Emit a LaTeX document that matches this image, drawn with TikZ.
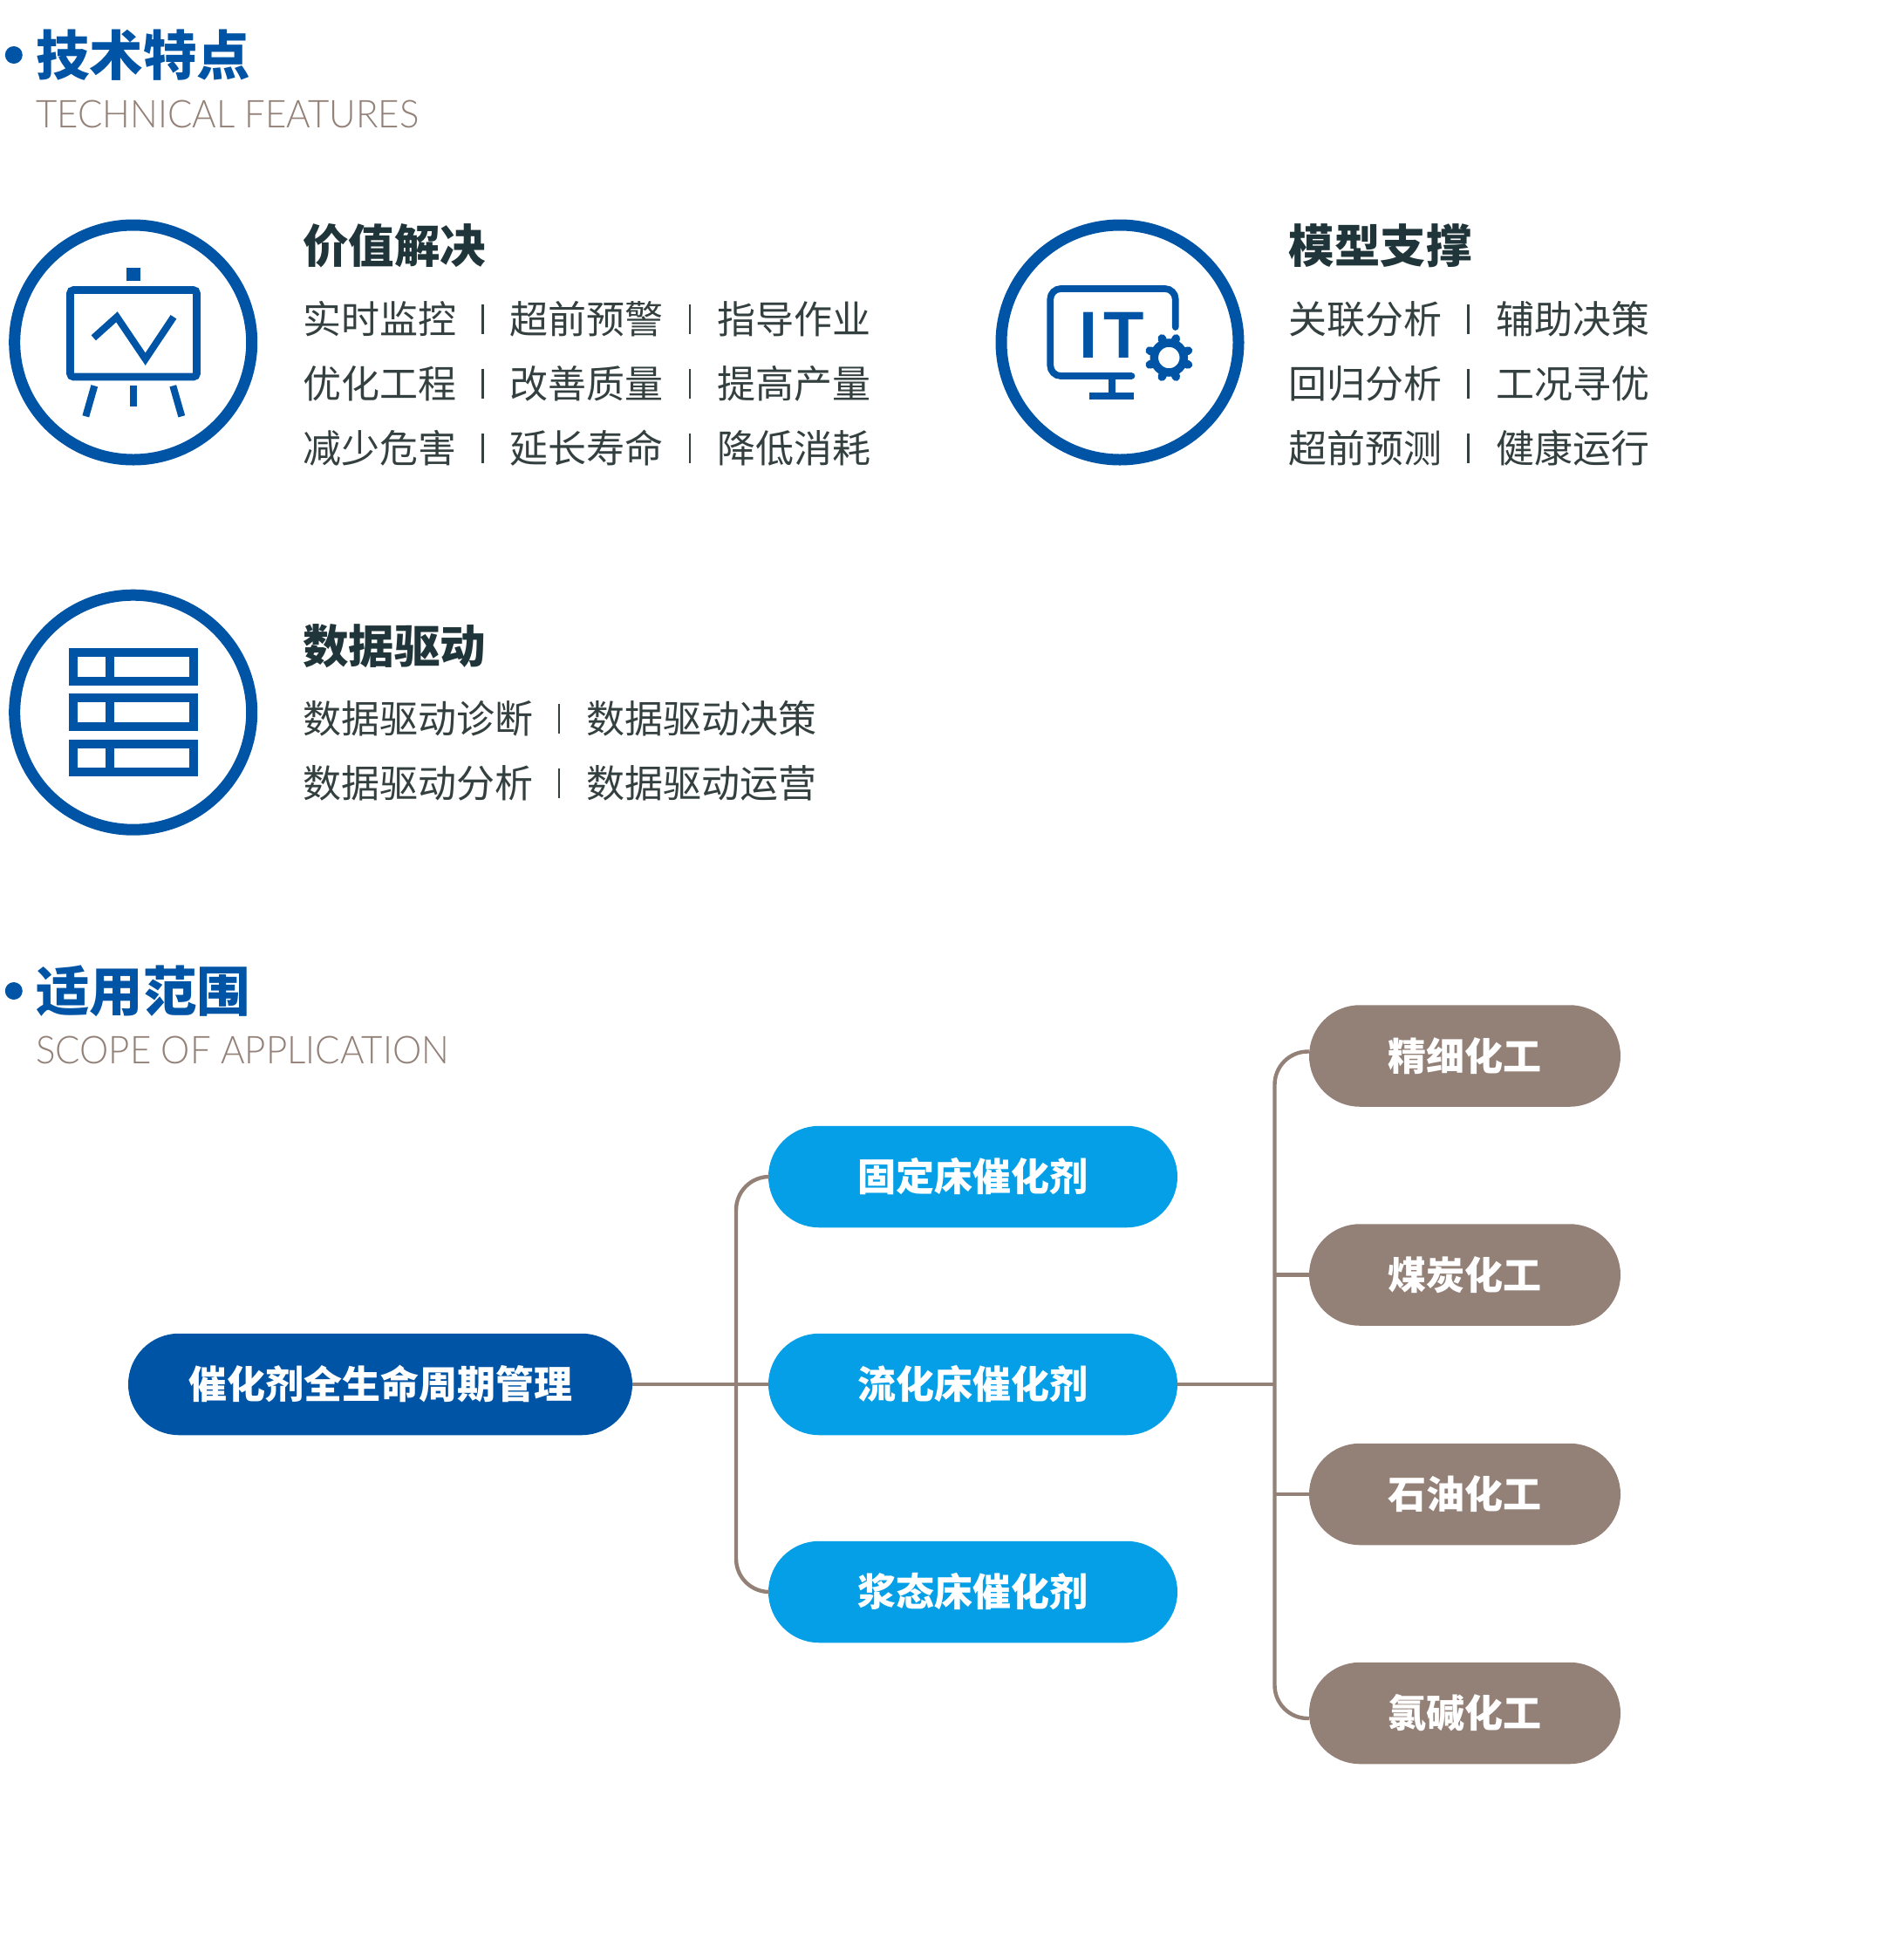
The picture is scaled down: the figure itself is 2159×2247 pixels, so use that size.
\documentclass[tikz,border=0pt]{standalone}
\usepackage{fontspec}
\usetikzlibrary{shapes.misc,shapes.geometric}
\newfontfamily\cjk{Noto Sans CJK SC}
\newfontfamily\enf[FakeStretch=0.955]{Lato Light}
\newfontfamily\itf{Liberation Sans}
\definecolor{navy}{HTML}{0054A6}
\definecolor{sky}{HTML}{049FE6}
\definecolor{taupe}{HTML}{938178}
\definecolor{dark}{HTML}{20353A}
\definecolor{body}{HTML}{33403F}
\tikzset{
  title/.style={anchor=west,inner sep=0,text=navy,text height=52pt,text depth=6pt,font=\cjk\bfseries\fontsize{61.5}{70}\selectfont},
  sub/.style={anchor=west,inner sep=0,text=taupe,text height=32pt,text depth=0pt,font=\enf\fontsize{44}{50}\selectfont},
  head/.style={anchor=west,inner sep=0,text=dark,text height=44pt,text depth=5pt,font=\cjk\bfseries\fontsize{52.5}{60}\selectfont},
  item/.style={anchor=west,inner sep=0,text=body,text height=37pt,text depth=4pt,font=\cjk\fontsize{44}{50}\selectfont},
  sepbar/.style={inner sep=0,fill=body,minimum width=2.4pt,minimum height=34pt},
  dot/.style={circle,inner sep=0,fill=navy,minimum size=20pt},
  ring/.style={draw=navy,line width=13pt,fill=white,ellipse,inner sep=0,minimum width=272pt,minimum height=269pt},
  ico/.style={draw=navy,line width=8pt},
  pill/.style={rounded rectangle,inner sep=0,minimum height=116.5pt,text=white,text height=37pt,text depth=4pt,font=\cjk\bfseries\fontsize{44}{50}\selectfont},
  rootpill/.style={pill,fill=navy,minimum width=578pt},
  midpill/.style={pill,fill=sky,minimum width=469pt},
  endpill/.style={pill,fill=taupe,minimum width=357pt},
  conn/.style={draw=taupe,line width=4.4pt},
  curved/.style={conn,rounded corners=38pt},
}
\begin{document}
\begin{tikzpicture}[x=1pt,y=-1pt]
\useasboundingbox[fill=white] (0,0) rectangle (2159,2247);
% section 1 heading
\node[dot] (d1) at (15.8,63) {};
\node[title] (t1) at (41,63) {技术特点};
\node[sub] (e1) at (41,130) {TECHNICAL FEATURES};
% icon circles
\node[ring] (c1) at (152.7,392.5) {};
\node[ring] (c2) at (1284,392.5) {};
\node[ring] (c3) at (152.7,816.7) {};
% icon 1: easel
\fill[navy] (144.7,306.7) rectangle (160.7,321.7);
\draw[ico,line width=8.8pt,rounded corners=4pt] (80.5,332.5) rectangle (225.5,432);
\draw[ico,miter limit=10] (107.3,387.3) -- (134,363.3) -- (166.7,411.7) -- (199,363.3);
\draw[ico] (108.3,442.3) -- (98.3,477.3);
\draw[ico] (152.7,442.3) -- (152.7,466);
\draw[ico] (198.3,442.3) -- (208.3,477.3);
% icon 2: monitor
\draw[ico,line width=7.7pt,line cap=round,rounded corners=12pt] (1297.5,431) -- (1204.3,431) -- (1204.3,331) -- (1347.7,331) -- (1347.7,375);
\draw[ico] (1275,431) -- (1275,454);
\fill[navy] (1249.3,450) rectangle (1300,458);
\node[anchor=base west,inner sep=0,text=navy,font=\itf\bfseries\fontsize{76}{80}\selectfont] (it) at (1237,410.6) {I\kern7pt T};
\draw[ico,line width=9.5pt] (1340.3,410) circle[radius=17];
\foreach \a in {20,70,110,160,200,250,290,340}
  \draw[ico,line width=9.5pt,line cap=round] (1340.3,410) ++(\a:19) -- ++(\a:4.5);
% icon 3: table
\foreach \ya/\yb in {748.3/781,800/832.7,852.7/885.3}{
  \draw[ico,line width=10pt] (84,\ya) rectangle (221.7,\yb);
  \draw[ico,line width=10pt] (126,\ya) -- (126,\yb);
}
% block 1
\node[head] (h1) at (347,282) {价值解决};
\node[item] (a11) at (347,365.5) {实时监控};
\node[sepbar] (s11) at (553.5,366) {};
\node[item] (a12) at (584,365.5) {超前预警};
\node[sepbar] (s12) at (791,366) {};
\node[item] (a13) at (822,365.5) {指导作业};
\node[item] (a21) at (347,440) {优化工程};
\node[sepbar] (s21) at (553.5,440) {};
\node[item] (a22) at (584,440) {改善质量};
\node[sepbar] (s22) at (791,440) {};
\node[item] (a23) at (822,440) {提高产量};
\node[item] (a31) at (347,514) {减少危害};
\node[sepbar] (s31) at (553.5,514) {};
\node[item] (a32) at (584,514) {延长寿命};
\node[sepbar] (s32) at (791,514) {};
\node[item] (a33) at (822,514) {降低消耗};
% block 2
\node[head] (h2) at (1477.5,282) {模型支撑};
\node[item] (b11) at (1477.5,365.5) {关联分析};
\node[sepbar] (q11) at (1683.5,366) {};
\node[item] (b12) at (1715,365.5) {辅助决策};
\node[item] (b21) at (1477.5,440) {回归分析};
\node[sepbar] (q21) at (1683.5,440) {};
\node[item] (b22) at (1715,440) {工况寻优};
\node[item] (b31) at (1477.5,514) {超前预测};
\node[sepbar] (q31) at (1683.5,514) {};
\node[item] (b32) at (1715,514) {健康运行};
% block 3
\node[head] (h3) at (347,741) {数据驱动};
\node[item] (g11) at (347,824) {数据驱动诊断};
\node[sepbar] (r11) at (641,824) {};
\node[item] (g12) at (672,824) {数据驱动决策};
\node[item] (g21) at (347,898) {数据驱动分析};
\node[sepbar] (r21) at (641,898) {};
\node[item] (g22) at (672,898) {数据驱动运营};
% section 2 heading
\node[dot] (d2) at (15.8,1136) {};
\node[title] (t2) at (41,1136) {适用范围};
\node[sub] (e2) at (41,1203) {SCOPE OF APPLICATION};
% tree
\node[rootpill] (root) at (436,1587) {催化剂全生命周期管理};
\node[midpill] (m1) at (1115.5,1349) {固定床催化剂};
\node[midpill] (m2) at (1115.5,1587) {流化床催化剂};
\node[midpill] (m3) at (1115.5,1825) {浆态床催化剂};
\node[endpill] (n1) at (1679.5,1210.5) {精细化工};
\node[endpill] (n2) at (1679.5,1461.5) {煤炭化工};
\node[endpill] (n3) at (1679.5,1713) {石油化工};
\node[endpill] (n4) at (1679.5,1964) {氯碱化工};
\coordinate (j1) at (844,1587);
\coordinate (j2) at (1461.5,1587);
\coordinate (n1in) at ([yshift=5pt]n1.west);
\coordinate (n4in) at ([yshift=-6pt]n4.west);
\draw[conn] (root.east) -- (m2.west);
\draw[curved] (m1.west) -| (j1);
\draw[curved] (m3.west) -| (j1);
\draw[conn] (m2.east) -- (j2);
\draw[curved] (n1in) -| (j2);
\draw[curved] (n4in) -| (j2);
\draw[conn] (n2.west) -- (n2.west -| j2);
\draw[conn] (n3.west) -- (n3.west -| j2);
\end{tikzpicture}
\end{document}
